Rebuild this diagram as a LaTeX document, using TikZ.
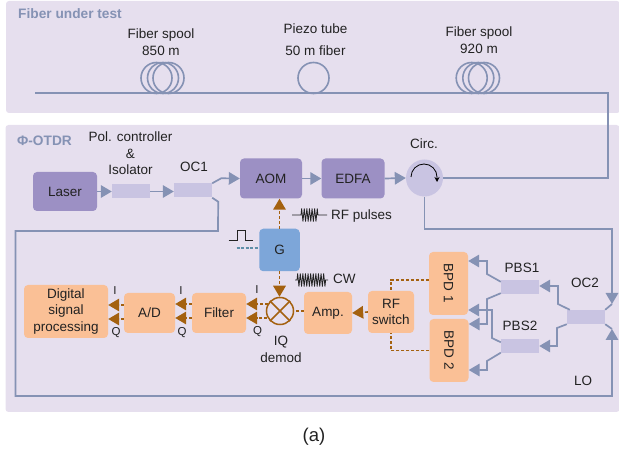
\documentclass[tikz,border=0pt]{standalone}
\usepackage{fontspec}
\setmainfont{Liberation Sans}
\usetikzlibrary{arrows.meta,decorations.pathmorphing}

\tikzset{
    panel/.style={fill=panel_bg, rounded corners=3pt, inner sep=0pt},
    lbl/.style={inner sep=0pt, align=center, text=ink, font=\fontsize{13.5}{16.5}\selectfont},
    iqlbl/.style={inner sep=0pt, text=ink, font=\fontsize{11.5}{12}\selectfont},
    head/.style={inner sep=0pt, text=fib_line, font=\fontsize{13.7}{16}\selectfont\bfseries},
    purplebox/.style={fill=box_purple, rounded corners=4pt, inner sep=0pt, lbl},
    orangebox/.style={fill=box_orange, rounded corners=4pt, inner sep=0pt, lbl},
    coupler/.style={fill=box_light, inner sep=0pt, minimum width=38pt, minimum height=14pt},
    spool/.style={circle, draw=fib_line, line width=1.6pt, inner sep=0pt, minimum size=31pt},
    fib/.style={draw=fib_line, line width=1.7pt},
    fibarr/.style={fib, -{Triangle[length=11pt,width=12.5pt]}},
    sig/.style={draw=sig_brown, line width=1.6pt, dash pattern=on 3pt off 2pt},
    sigarr/.style={sig, -{Triangle[length=11pt,width=12.5pt,fill=sig_brown]}},
    rfcoil/.style={draw=ink, line width=0.8pt, decorate, decoration={zigzag, amplitude=6.5pt, segment length=2.6pt, pre length=#1, post length=#1}},
}

\begin{document}
\begin{tikzpicture}[x=1pt,y=-1pt]
    \definecolor{panel_bg}{HTML}{E6DFEE}
    \definecolor{fib_line}{HTML}{8592B4}
    \definecolor{box_purple}{HTML}{9C90C4}
    \definecolor{box_light}{HTML}{C9C4E2}
    \definecolor{box_orange}{HTML}{FAC096}
    \definecolor{box_blue}{HTML}{7DA6D9}
    \definecolor{sig_brown}{HTML}{A4610F}
    \definecolor{ctl_teal}{HTML}{5F8FA8}
    \definecolor{ink}{HTML}{222222}
    \useasboundingbox (0,0) rectangle (619,454);

    % panels
    \node[panel, minimum width=614pt, minimum height=112pt] (fut) at (313,57) {};
    \node[panel, minimum width=614pt, minimum height=287pt] (otdr) at (312.5,268.5) {};
    \node[head] (futlabel) at (70,14) {Fiber under test};
    \node[head] (otdrlabel) at (44.5,141) {Φ-OTDR};

    % fiber under test
    \coordinate (fibstart) at (35,93);
    \coordinate (fibturn) at (608,93);
    \node[spool] (spoolAa) at (156.5,78) {};
    \node[spool] (spoolAb) at (163,78) {};
    \node[spool] (spoolAc) at (168.5,78) {};
    \node[spool] (piezo) at (313.5,78) {};
    \node[spool] (spoolBa) at (471.7,78) {};
    \node[spool] (spoolBb) at (478.3,78) {};
    \node[spool] (spoolBc) at (484,78) {};
    \node[lbl] (spoolAlabel) at (161,42) {Fiber spool\\850 m};
    \node[lbl] (piezolabel) at (315.5,39.5) {Piezo tube\\[5pt]50 m fiber};
    \node[lbl] (spoolBlabel) at (479,40) {Fiber spool\\920 m};

    % transmit path
    \node[purplebox, minimum width=64pt, minimum height=39pt] (laser) at (65,191.5) {Laser};
    \node[coupler] (iso) at (131,191.5) {};
    \node[coupler] (oc1) at (193,190.5) {};
    \node[purplebox, minimum width=62pt, minimum height=40pt] (aom) at (271,178.5) {AOM};
    \node[purplebox, minimum width=63pt, minimum height=40pt] (edfa) at (353,178.5) {EDFA};
    \node[circle, fill=box_light, inner sep=0pt, minimum size=37pt] (circ) at (424.5,178) {};
    \node[lbl] (isolabel) at (130.5,153.5) {Pol. controller\\\&\\Isolator};
    \node[lbl] (oc1label) at (194,167) {OC1};
    \node[lbl] (circlabel) at (424,144) {Circ.};
    \draw[-{Stealth[length=5pt,width=5pt]}, draw=black, line width=0.8pt] (411,177) arc (180:360:13) -- (437,182);

    % receive path
    \node[coupler] (oc2) at (586,317) {};
    \node[coupler] (pbsa) at (520,287) {};
    \node[coupler] (pbsb) at (520,346.5) {};
    \node[lbl] (oc2label) at (585,283) {OC2};
    \node[lbl] (pbsalabel) at (522,268) {PBS1};
    \node[lbl] (pbsblabel) at (520,326) {PBS2};
    \node[lbl] (lolabel) at (583,381) {LO};
    \node[orangebox, minimum width=39pt, minimum height=63pt] (bpda) at (448.5,283.5) {\rotatebox{-90}{BPD 1}};
    \node[orangebox, minimum width=39pt, minimum height=63pt] (bpdb) at (449,350.5) {\rotatebox{-90}{BPD 2}};
    \node[orangebox, minimum width=46pt, minimum height=42pt] (rfsw) at (391,312) {RF\\switch};
    \node[orangebox, minimum width=48pt, minimum height=42pt] (amp) at (328,313) {Amp.};
    \node[circle, draw=sig_brown, line width=1.5pt, inner sep=0pt, minimum size=27pt] (iq) at (280,311) {};
    \draw[sig_brown, line width=1.5pt] (iq.north west) -- (iq.south east) (iq.north east) -- (iq.south west);
    \node[lbl] (iqlabel) at (281,349.5) {IQ\\demod};
    \node[orangebox, minimum width=54pt, minimum height=40pt] (filter) at (219,313) {Filter};
    \node[orangebox, minimum width=51pt, minimum height=40pt] (ad) at (149.5,313) {A/D};
    \node[orangebox, minimum width=84pt, minimum height=53pt] (dsp) at (66,311.5) {Digital\\signal\\processing};
    \node[fill=box_blue, rounded corners=4pt, inner sep=0pt, lbl, minimum width=40.5pt, minimum height=42.5pt] (gate) at (279.5,250) {G};

    \node[iqlbl] (iA) at (257,290) {I};
    \node[iqlbl] (qA) at (257.5,332) {Q};
    \node[iqlbl] (iB) at (181,290.5) {I};
    \node[iqlbl] (qB) at (182,333) {Q};
    \node[iqlbl] (iC) at (115,290.5) {I};
    \node[iqlbl] (qC) at (116,333) {Q};

    % fiber connections
    \draw[fib] (fibstart) -- (fibturn) -- (fibturn |- circ) -- (circ.east);
    \draw[fibarr] (laser) -- (iso);
    \draw[fibarr] (iso.east) -- (oc1.west |- iso);
    \draw[fibarr] (oc1.north east) -- ++(9,-5) -- (aom.west);
    \draw[fibarr] (aom.east) -- (edfa.west);
    \draw[fibarr] (edfa.east) -- (circ.west);
    \coordinate (ocaturn) at (218,231);
    \coordinate (loturn) at (15.5,396);
    \draw[fibarr] (oc1.south east) -- ++(6,4) -- (ocaturn) -- (loturn |- ocaturn) -- (loturn) -- (612,396) -- (612,329);
    \draw[fib] (oc2.south east) -- (612,329);
    \draw[fibarr] (circ.south) -- (424.5,229) -- (612,229) -- (612,304);
    \draw[fib] (oc2.north east) -- (612,304);
    \draw[fibarr] (oc2.north west) ++(3,0) -- (558,304) -- (558,286) -- (pbsa.east |- 0,286);
    \draw[fibarr] (oc2.south west) ++(0,0) -- (557,328) -- (557,346) -- (pbsb.east |- 0,346);
    \draw[fibarr] (pbsa.north west) ++(0,2) -- (487,274) -- (487,261) -- (bpda.east |- 0,261);
    \draw[fibarr] (pbsa.south west) ++(0,-1) -- (487,299) -- (487,324) -- (bpdb.east |- 0,324);
    \draw[fibarr] (pbsb.north west) ++(0,3) -- (492,338) -- (492,310) -- (bpda.east |- 0,310);
    \draw[fibarr] (pbsb.south west) ++(0,-1) -- (487,361) -- (487,370) -- (bpdb.east |- 0,370);

    % electrical connections
    \draw[sig] (bpda.west |- 0,280) -- (rfsw.north |- 0,280) -- (rfsw.north);
    \draw[sig] (bpdb.west) -- (rfsw.south |- bpdb) -- (rfsw.south);
    \draw[sigarr] (rfsw.west) -- (amp.east);
    \draw[sig] (amp.west |- iq) -- (iq.east);
    \draw[sigarr] (gate.north) -- (aom.south -| gate);
    \draw[sigarr] (gate.south) -- (iq.north -| gate);
    \draw[sigarr] (268,304) -- (filter.east |- 0,304);
    \draw[sigarr] (267,318) -- (filter.east |- 0,318);
    \draw[sigarr] (filter.west |- 0,304) -- (ad.east |- 0,304);
    \draw[sigarr] (filter.west |- 0,318) -- (ad.east |- 0,318);
    \draw[sigarr] (ad.west |- 0,305) -- (dsp.east |- 0,305);
    \draw[sigarr] (ad.west |- 0,319) -- (dsp.east |- 0,319);

    % gate drive and rf symbols
    \draw[ink, line width=0.8pt] (228.7,240.7) -- (237.3,240.7) -- (237.3,230) -- (245,230) -- (245,240.7) -- (253.3,240.7);
    \draw[ctl_teal, line width=1.2pt, dash pattern=on 3pt off 1.5pt] (236.7,248) -- (gate.west |- 0,248);
    \draw[rfcoil=9pt] (292,215) -- (327,215);
    \draw[rfcoil=2pt] (295,280) -- (328,280);
    \node[lbl, anchor=west] (rflabel) at (331,216) {RF pulses};
    \node[lbl, anchor=west] (cwlabel) at (333,279) {CW};

    \node[lbl, font=\fontsize{18.5}{20}\selectfont] (caption) at (314,437) {(a)};
\end{tikzpicture}
\end{document}
